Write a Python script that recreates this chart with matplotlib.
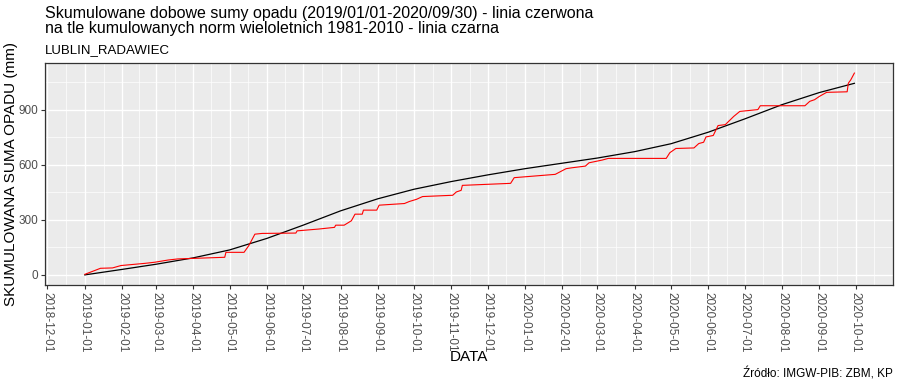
import numpy as np
import pandas as pd
import matplotlib
matplotlib.use('Agg')
from matplotlib import pyplot as plt

plt.rcParams['font.family'] = ['Liberation Sans', 'DejaVu Sans']

# Monthly norms 1981-2010 (mm), Jan..Dec
norm_months = [30, 28, 35, 43, 63, 72, 78, 66, 52, 42, 36, 34]

# Observed cumulative precipitation (mm), 2019-01-01 .. 2020-09-30
obs_dates = [
    '2019-01-01', '2019-01-14', '2019-01-24', '2019-01-31', '2019-02-20', '2019-02-28',
    '2019-03-11', '2019-03-19', '2019-04-27', '2019-04-28', '2019-05-13', '2019-05-17',
    '2019-05-22', '2019-05-28', '2019-06-25', '2019-06-26', '2019-07-14', '2019-07-27',
    '2019-07-28', '2019-08-04', '2019-08-10', '2019-08-13', '2019-08-19', '2019-08-20',
    '2019-08-31', '2019-09-02', '2019-09-23', '2019-09-27', '2019-10-03', '2019-10-08',
    '2019-11-02', '2019-11-05', '2019-11-09', '2019-11-10', '2019-12-20', '2019-12-23',
    '2020-01-26', '2020-02-04', '2020-02-09', '2020-02-20', '2020-02-23', '2020-03-05',
    '2020-03-10', '2020-04-27', '2020-04-30', '2020-05-05', '2020-05-20', '2020-05-24',
    '2020-05-28', '2020-05-30', '2020-06-05', '2020-06-09', '2020-06-15', '2020-06-22',
    '2020-06-27', '2020-07-12', '2020-07-14', '2020-08-20', '2020-08-24', '2020-08-28',
    '2020-09-01', '2020-09-07', '2020-09-24', '2020-09-25', '2020-09-27', '2020-09-30',
]
obs_values = [
    3, 36, 38, 51, 63, 69,
    81, 87, 96, 123, 123, 160,
    222, 226, 228, 240, 250, 259,
    271, 271, 295, 331, 331, 353,
    353, 380, 389, 400, 412, 427,
    434, 452, 461, 488, 499, 530,
    548, 579, 584, 593, 611, 626,
    635, 635, 666, 689, 692, 716,
    723, 752, 760, 814, 819, 864,
    891, 901, 922, 922, 946, 955,
    973, 995, 998, 1045, 1063, 1100,
]

x_ticks = pd.date_range('2018-12-01', '2020-10-01', freq='MS')
y_ticks = [0, 300, 600, 900]


def norm_curve():
    """Cumulative norm at month starts over the period."""
    months = pd.date_range('2019-01-01', '2020-10-01', freq='MS')
    vals = [0]
    for m in months[:-1]:
        vals.append(vals[-1] + norm_months[m.month - 1])
    dates = list(months[:-1]) + [pd.Timestamp('2020-09-30')]
    vals[-1] = vals[-2] + norm_months[8] * 29 / 30
    return dates, vals


def main():
    fig = plt.figure(figsize=(9, 3.86), dpi=100)
    ax = fig.add_axes([0.05, 0.2617, 0.9422, 0.5751])
    ax.set_facecolor('#EBEBEB')

    n_dates, n_vals = norm_curve()
    ax.plot(n_dates, n_vals, color='black', lw=0.9, zorder=3)
    ax.plot(pd.to_datetime(obs_dates), obs_values, color='red', lw=0.8, zorder=4)

    # Axes limits and ticks
    ax.set_xlim(pd.Timestamp('2018-11-29'), pd.Timestamp('2020-11-01'))
    ax.set_ylim(-55, 1155)
    ax.set_xticks(x_ticks)
    ax.set_xticklabels([d.strftime('%Y-%m-%d') for d in x_ticks], rotation=-90,
                       fontsize=8.5, color='#4D4D4D')
    minor_x = x_ticks[:-1] + (x_ticks[1:] - x_ticks[:-1]) / 2
    ax.set_xticks(list(minor_x) + [pd.Timestamp('2020-10-16')], minor=True)
    ax.set_yticks(y_ticks)
    ax.set_yticklabels([str(v) for v in y_ticks], fontsize=8.5, color='#4D4D4D')
    ax.set_yticks([150, 450, 750, 1050], minor=True)

    ax.grid(which='major', color='white', lw=1.0)
    ax.grid(which='minor', color='white', lw=0.5)
    ax.set_axisbelow(True)
    ax.tick_params(which='major', length=3, color='#333333', pad=2)
    ax.tick_params(which='minor', length=0)
    for s in ax.spines.values():
        s.set_color('#333333')
        s.set_linewidth(0.9)

    # Axis titles
    fig.text(469 / 900, 1 - 357 / 386, 'DATA', fontsize=11, ha='center', va='center')
    fig.text(11 / 900, 1 - 174 / 386, 'SKUMULOWANA SUMA OPADU (mm)', fontsize=11,
             rotation=90, ha='center', va='center')

    # Titles and caption
    fig.text(0.05, 0.985, 'Skumulowane dobowe sumy opadu (2019/01/01-2020/09/30) - linia czerwona\n'
             'na tle kumulowanych norm wieloletnich 1981-2010 - linia czarna',
             fontsize=11.5, va='top', ha='left', linespacing=1.0)
    fig.text(0.05, 0.855, 'LUBLIN_RADAWIEC', fontsize=9.5, va='bottom', ha='left')
    fig.text(0.992, 0.015, 'Źródło: IMGW-PIB: ZBM, KP', fontsize=8.5, va='bottom', ha='right')

    fig.savefig('out.png', dpi=100)


if __name__ == '__main__':
    main()
